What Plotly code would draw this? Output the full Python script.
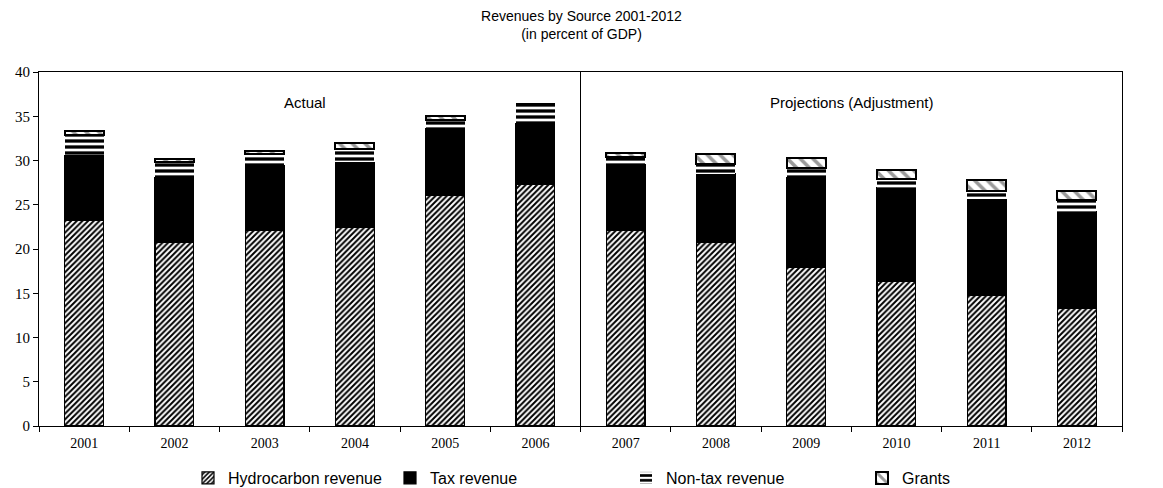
import plotly.graph_objects as go

years = ["2001", "2002", "2003", "2004", "2005", "2006",
         "2007", "2008", "2009", "2010", "2011", "2012"]
hydrocarbon = [23.2, 20.7, 22.1, 22.4, 26.1, 27.3, 22.1, 20.7, 17.9, 16.3, 14.8, 13.3]
tax = [7.4, 7.4, 7.3, 7.4, 7.5, 6.9, 7.4, 7.8, 10.2, 10.6, 10.8, 10.9]
non_tax = [2.3, 1.7, 1.3, 1.5, 1.0, 2.2, 0.9, 1.1, 1.1, 1.0, 1.0, 1.3]
grants = [0.4, 0.4, 0.4, 0.7, 0.4, 0.0, 0.5, 1.1, 1.1, 1.0, 1.2, 1.1]

y_ticks = [0, 5, 10, 15, 20, 25, 30, 35, 40]

W, H = 1163, 488
sans = "Liberation Sans, Arial"
serif = "Liberation Serif, Times New Roman"

fig = go.Figure()

outline = dict(color="black", width=1.2)

fig.add_trace(go.Bar(
    x=years, y=hydrocarbon, name="Hydrocarbon revenue", legend="legend",
    marker=dict(color="white", line=outline,
                pattern=dict(shape="/", fgcolor="black", bgcolor="white",
                             size=4, solidity=0.5, fillmode="replace")),
))
fig.add_trace(go.Bar(
    x=years, y=tax, name="Tax revenue", legend="legend2",
    marker=dict(color="black", line=outline),
))
fig.add_trace(go.Bar(
    x=years, y=non_tax, name="Non-tax revenue", legend="legend3",
    marker=dict(color="white", line=dict(color="white", width=0),
                pattern=dict(shape="-", fgcolor="black", bgcolor="white",
                             size=6, solidity=0.55, fillmode="replace")),
))
fig.add_trace(go.Bar(
    x=years, y=grants, name="Grants", legend="legend4",
    marker=dict(color="white", line=dict(color="black", width=2),
                pattern=dict(shape="\\", fgcolor="#9a9a9a", bgcolor="white",
                             size=9, solidity=0.4, fillmode="replace")),
))

# divider between actual and projected years
fig.add_shape(type="line", xref="x", yref="paper",
              x0=5.5, x1=5.5, y0=0, y1=1,
              line=dict(color="black", width=1))

fig.add_annotation(x=2.45, y=36.6, xref="x", yref="y", text="Actual",
                   showarrow=False, font=dict(family=sans, size=15, color="black"))
fig.add_annotation(x=8.5, y=36.6, xref="x", yref="y", text="Projections (Adjustment)",
                   showarrow=False, font=dict(family=sans, size=15, color="black"))


def legend_at(text_left_px):
    return dict(xref="container", yref="container",
                x=(text_left_px - 40) / W, xanchor="left",
                y=(H - 478) / H, yanchor="middle",
                bgcolor="rgba(0,0,0,0)", borderwidth=0, itemwidth=30,
                font=dict(family=sans, size=16, color="black"))


fig.update_layout(
    barmode="stack",
    bargap=0.57,
    width=W, height=H,
    margin=dict(l=39, r=41, t=72, b=62, autoexpand=False),
    paper_bgcolor="white", plot_bgcolor="white",
    title=dict(text="Revenues by Source 2001-2012<br>(in percent of GDP)",
               x=0.5, xanchor="center", y=0.957, yanchor="top",
               font=dict(family=sans, size=14, color="black")),
    showlegend=True,
    legend=legend_at(228),
    legend2=legend_at(430),
    legend3=legend_at(666),
    legend4=legend_at(902),
    xaxis=dict(type="category", showline=True, linecolor="black", linewidth=1,
               mirror=True, ticks="outside", tickson="boundaries", ticklen=5,
               tickcolor="black", showgrid=False, ticklabelstandoff=4,
               tickfont=dict(family=serif, size=14, color="black")),
    yaxis=dict(range=[0, 40], tickvals=y_ticks, showline=True, linecolor="black",
               linewidth=1, mirror=True, ticks="outside", ticklen=5, tickcolor="black",
               showgrid=False, zeroline=False,
               tickfont=dict(family=serif, size=15, color="black")),
)

fig.write_html("out.html")
